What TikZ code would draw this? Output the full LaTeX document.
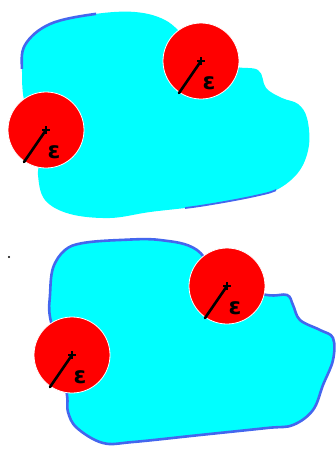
\documentclass[tikz,border=0pt]{standalone}
\usepackage{fontspec}
\newfontfamily\epsfont{DejaVu Sans}
\usetikzlibrary{calc}
\definecolor{blobcyan}{HTML}{00FFFF}
\definecolor{blobblue}{HTML}{4466EE}
\definecolor{ballred}{HTML}{FF0000}
\tikzset{
  blobfill/.style={fill=blobcyan, draw=none},
  blobline/.style={draw=blobblue, line width=2.6pt, line cap=round, line join=round},
  ball/.style={fill=ballred, draw=white, line width=0.8pt},
  radiusline/.style={draw=black, line width=2.6pt, line cap=round},
  plusmark/.style={draw=black, line width=1.1pt},
  epslabel/.style={font=\epsfont\bfseries\fontsize{23}{23}\selectfont, inner sep=0pt, text=black}
}
\newcommand{\epsball}[2]{%
  \fill[ball] (#1) circle (38);
  \draw[radiusline] (#1) -- ++(-22,32);
  \draw[plusmark] ($(#1)+(-4,0)$) -- ++(8,0) ($(#1)+(0,-4)$) -- ++(0,8);
  \node[epslabel] (#2) at ($(#1)+(8,22)$) {ε};
}
\def\topblob{(25,45) (50,24) (95,14) (135,12) (165,20) (190,40) (230,65) (258,70)
 (266,88) (282,98) (298,104) (307,118) (309,145) (300,170) (280,188)
 (255,196) (200,206) (150,212) (110,218) (70,214) (45,200) (38,175)
 (40,150) (25,105) (22,72)}
\def\botblob{(53,268) (65,250) (83,243) (120,240) (160,240) (197,250) (225,285)
 (267,295) (287,295) (293,305) (300,320) (320,330) (333,338) (333,360)
 (323,385) (313,410) (293,425) (267,428) (200,435) (133,442) (103,443)
 (77,428) (68,412) (67,395) (60,355) (50,317) (50,295)}
\begin{document}
\begin{tikzpicture}[x=1pt,y=-1pt]
\useasboundingbox (0,0) rectangle (336,450);
% ---------- top blob ----------
\fill[blobfill] plot[smooth cycle, tension=0.6] coordinates {\topblob};
\begin{scope}
  \clip (0,0) rectangle (96,68);
  \draw[blobline] plot[smooth cycle, tension=0.6] coordinates {\topblob};
\end{scope}
\begin{scope}
  \clip (185,150) rectangle (276,230);
  \draw[blobline, line width=1.8pt] plot[smooth cycle, tension=0.6] coordinates {\topblob};
\end{scope}
% ---------- bottom blob ----------
\fill[blobfill] plot[smooth cycle, tension=0.6] coordinates {\botblob};
\draw[blobline] plot[smooth cycle, tension=0.6] coordinates {\botblob};
% ---------- balls ----------
\coordinate (c1) at (201,61);
\coordinate (c2) at (46,130);
\coordinate (c3) at (227,286);
\coordinate (c4) at (72,355);
\epsball{c1}{e1}
\epsball{c2}{e2}
\epsball{c3}{e3}
\epsball{c4}{e4}
% ---------- dot ----------
\coordinate (dot) at (9,257);
\fill[black] (dot) circle (1.2);
\end{tikzpicture}
\end{document}
